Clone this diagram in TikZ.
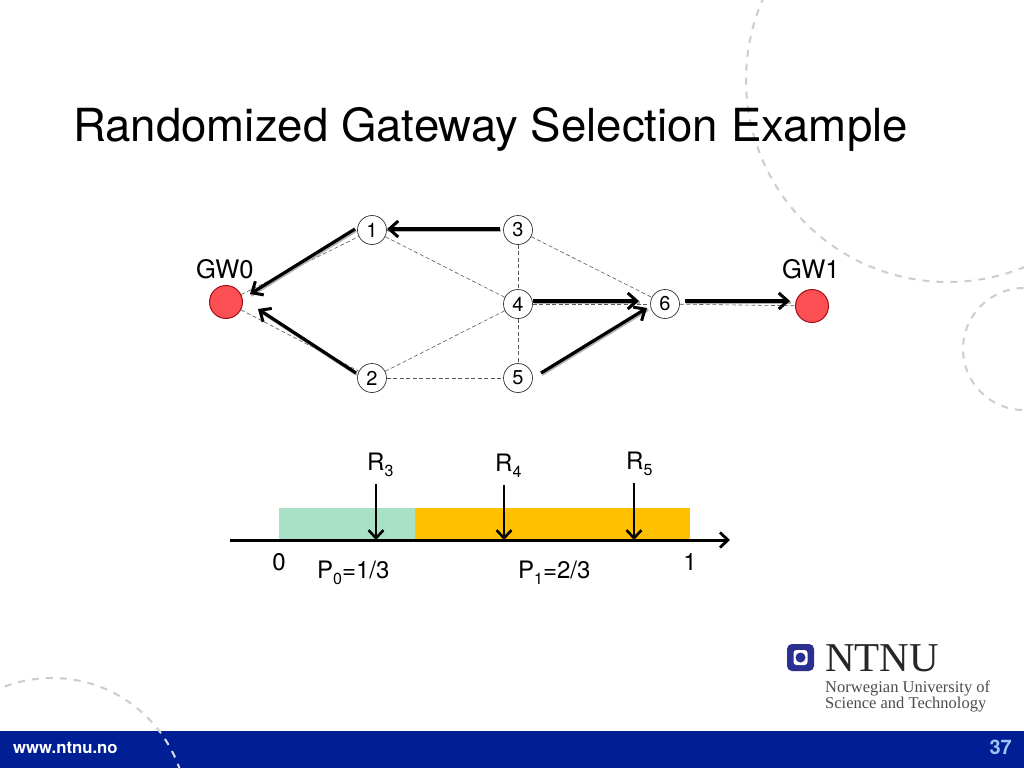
\documentclass[tikz,border=0pt]{standalone}
\usepackage{fontspec}
\setmainfont{TeX Gyre Heros}
\newfontfamily\logofont{Liberation Serif}
\usetikzlibrary{arrows.meta}
\definecolor{barblue}{HTML}{001F95}
\definecolor{logoblue}{HTML}{2B2F8F}
\definecolor{gwred}{HTML}{FB4F53}
\definecolor{gwedge}{HTML}{A01018}
\definecolor{paleg}{HTML}{A9E1C6}
\definecolor{amber}{HTML}{FFC000}
\definecolor{arcgray}{HTML}{CDCDCD}
\definecolor{pagecol}{HTML}{9CC4F5}
\newcommand{\subs}[1]{\raisebox{-.28em}{\fontsize{16}{16}\selectfont #1}}
\tikzset{
  x=1pt,y=-1pt,
  numnode/.style={circle,draw=black!80,line width=.7pt,fill=white,minimum size=29pt,inner sep=0pt,font=\fontsize{20}{20}\selectfont},
  gwnode/.style={circle,draw=gwedge,line width=1pt,fill=gwred,minimum size=33pt,inner sep=0pt},
  lbl/.style={inner sep=0pt,anchor=base west,font=\fontsize{24}{24}\selectfont},
  gwlbl/.style={inner sep=0pt,anchor=base west,font=\fontsize{25.5}{25.5}\selectfont},
  thinlink/.style={draw=black!65,line width=.6pt,dash pattern=on 4pt off 2.5pt},
  route/.style={draw=black,line width=3.2pt,-{Straight Barb[length=9pt,width=16pt,line width=3pt]},
    preaction={draw=black!30,line width=3pt,-,transform canvas={shift={(1pt,-1.5pt)}}}},
  drop/.style={draw=black,line width=2.8pt,-{Straight Barb[length=8pt,width=15pt,line width=2.6pt]}},
  axisline/.style={draw=black,line width=3pt,-{Straight Barb[length=8pt,width=15pt,line width=2.8pt]}},
  decoarc/.style={draw=arcgray,line width=2pt,dash pattern=on 7pt off 7pt},
}
\begin{document}
\begin{tikzpicture}
\useasboundingbox (0,0) rectangle (1024,768);
\fill[white] (0,0) rectangle (1024,768);
% decorative arcs
\draw[decoarc] (948,80) circle [radius=202];
\draw[decoarc] (1024,349) circle [radius=61];
\draw[decoarc] (52,813) circle [radius=135];
% footer
\fill[barblue] (0,731) rectangle (1024,768);
\begin{scope}
\clip (0,731) rectangle (1024,768);
\draw[decoarc,draw=white!85!barblue] (52,813) circle [radius=135];
\end{scope}
\node[inner sep=0pt,anchor=base west,text=white,font=\fontsize{16.7}{16.7}\selectfont\bfseries] (url) at (13,753) {www.ntnu.no};
\node[inner sep=0pt,anchor=base east,text=pagecol,font=\fontsize{20}{20}\selectfont\bfseries] (page) at (1012,754) {37};
% title
\node[inner sep=0pt,anchor=base west,font=\fontsize{45.6}{45.6}\selectfont] (title) at (73,141) {Randomized Gateway Selection Example};
% graph nodes
\node[numnode] (n1) at (372,230) {1};
\node[numnode] (n2) at (372,378) {2};
\node[numnode] (n3) at (518,230) {3};
\node[numnode] (n4) at (518,304) {4};
\node[numnode] (n5) at (518,378) {5};
\node[numnode] (n6) at (665,304) {6};
\node[gwnode] (gw0) at (226,302) {};
\node[gwnode] (gw1) at (812,306) {};
\node[gwlbl] (gw0l) at (196,278) {GW0};
\node[gwlbl] (gw1l) at (782,278) {GW1};
% thin links
\draw[thinlink] (gw0) -- (n1);
\draw[thinlink] (gw0) -- (n2);
\draw[thinlink] (n1) -- (n3);
\draw[thinlink] (n1) -- (n4);
\draw[thinlink] (n2) -- (n4);
\draw[thinlink] (n2) -- (n5);
\draw[thinlink] (n3) -- (n4);
\draw[thinlink] (n4) -- (n5);
\draw[thinlink] (n3) -- (n6);
\draw[thinlink] (n4) -- (n6);
\draw[thinlink] (n6) -- (gw1);
% route arrows
\coordinate (a1s) at (355,229); \coordinate (a1e) at (250,294);
\coordinate (a2s) at (356,373); \coordinate (a2e) at (258,309);
\coordinate (a3s) at (500,229); \coordinate (a3e) at (387,229);
\coordinate (a4s) at (533,301); \coordinate (a4e) at (639,301);
\coordinate (a5s) at (541,373); \coordinate (a5e) at (647,308);
\coordinate (a6s) at (685,301); \coordinate (a6e) at (790,301);
\draw[route] (a1s) -- (a1e);
\draw[route] (a2s) -- (a2e);
\draw[route] (a3s) -- (a3e);
\draw[route] (a4s) -- (a4e);
\draw[route] (a5s) -- (a5e);
\draw[route] (a6s) -- (a6e);
% timeline
\fill[paleg] (279,508) rectangle (415,540);
\fill[amber] (415,508) rectangle (690,540);
\coordinate (axs) at (230,540); \coordinate (axe) at (730,540);
\draw[axisline] (axs) -- (axe);
\coordinate (r3s) at (376,484); \coordinate (r3e) at (376,540);
\coordinate (r4s) at (504,485); \coordinate (r4e) at (504,540);
\coordinate (r5s) at (634,483); \coordinate (r5e) at (634,540);
\draw[drop] (r3s) -- (r3e);
\draw[drop] (r4s) -- (r4e);
\draw[drop] (r5s) -- (r5e);
\node[lbl] (r3) at (367,470) {R\subs{3}};
\node[lbl] (r4) at (495,471) {R\subs{4}};
\node[lbl] (r5) at (626,469) {R\subs{5}};
\node[lbl,anchor=base] (zero) at (279,570) {0};
\node[lbl,anchor=base] (one) at (690,570) {1};
\node[lbl] (p0) at (317,578) {P\subs{0}=1/3};
\node[lbl] (p1) at (518,578) {P\subs{1}=2/3};
% logo
\fill[logoblue,rounded corners=5pt] (787,644) rectangle (814,671);
\fill[white,rounded corners=3pt] (793.5,650) rectangle (807.5,665);
\fill[logoblue] (800.5,657.5) circle [radius=5];
\node[inner sep=0pt,anchor=base west,text=black!85,font=\logofont\fontsize{41}{41}\selectfont] (ntnu) at (825,671.5) {NTNU};
\node[inner sep=0pt,anchor=base west,text=black!70,font=\logofont\fontsize{16.5}{16.5}\selectfont] (uni1) at (825,692) {Norwegian University of};
\node[inner sep=0pt,anchor=base west,text=black!70,font=\logofont\fontsize{16.5}{16.5}\selectfont] (uni2) at (825,708.5) {Science and Technology};
\end{tikzpicture}
\end{document}
